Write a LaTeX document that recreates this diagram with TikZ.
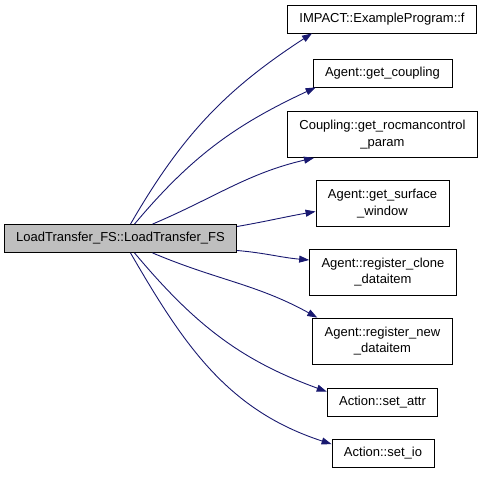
\documentclass[tikz,border=0pt]{standalone}
\usepackage{fontspec}
\setmainfont{Liberation Sans}
\usetikzlibrary{arrows.meta}
\definecolor{CGEdge}{HTML}{191970}
\definecolor{CGRoot}{HTML}{BFBFBF}
\tikzset{
  fnbox/.style={draw=black,fill=white,line width=0.8pt,inner xsep=12pt,inner ysep=0pt,
    minimum height=28pt,align=center,font=\fontsize{13}{16.5}\selectfont},
  twoline/.style={minimum height=46pt},
  callarrow/.style={draw=CGEdge,line width=0.9pt,-{Triangle[length=10pt,width=7pt]}}
}
\begin{document}
\begin{tikzpicture}[x=1pt,y=1pt]
\path[use as bounding box] (0,0) rectangle (485,477);
% caller
\node[fnbox,fill=CGRoot] (root) at (120.5,238.5) {LoadTransfer\_FS::LoadTransfer\_FS};
% callees
\node[fnbox] (impact) at (382,458) {IMPACT::ExampleProgram::f};
\node[fnbox] (coupling) at (382.5,404) {Agent::get\_coupling};
\node[fnbox,twoline] (rocman) at (382.5,342.5) {Coupling::get\_rocmancontrol\\\_param};
\node[fnbox,twoline] (surface) at (382.5,273.5) {Agent::get\_surface\\\_window};
\node[fnbox,twoline] (clone) at (383,205) {Agent::register\_clone\\\_dataitem};
\node[fnbox,twoline] (newitem) at (382.5,136) {Agent::register\_new\\\_dataitem};
\node[fnbox] (attr) at (382.5,75) {Action::set\_attr};
\node[fnbox] (io) at (383,23.5) {Action::set\_io};
% calls
\draw[callarrow] ([xshift=10pt]root.north) to[out=60,in=213] ([xshift=25pt]impact.south west);
\draw[callarrow] ([xshift=14pt]root.north) to[out=50,in=205] ([xshift=3pt]coupling.south west);
\draw[callarrow] ([xshift=32pt]root.north) to[out=23,in=193] ([xshift=27pt]rocman.south west);
\draw[callarrow] ([yshift=12pt]root.east) to[out=10,in=190] ([yshift=-8pt]surface.west);
\draw[callarrow] ([yshift=-12pt]root.east) to[out=-5,in=175] ([yshift=12pt]clone.west);
\draw[callarrow] ([xshift=32pt]root.south) to[out=-23,in=151] ([xshift=5pt]newitem.north west);
\draw[callarrow] ([xshift=14pt]root.south) to[out=-50,in=160] ([yshift=-4pt]attr.north west);
\draw[callarrow] ([xshift=10pt]root.south) to[out=-60,in=162] ([yshift=-5pt]io.north west);
\end{tikzpicture}
\end{document}
